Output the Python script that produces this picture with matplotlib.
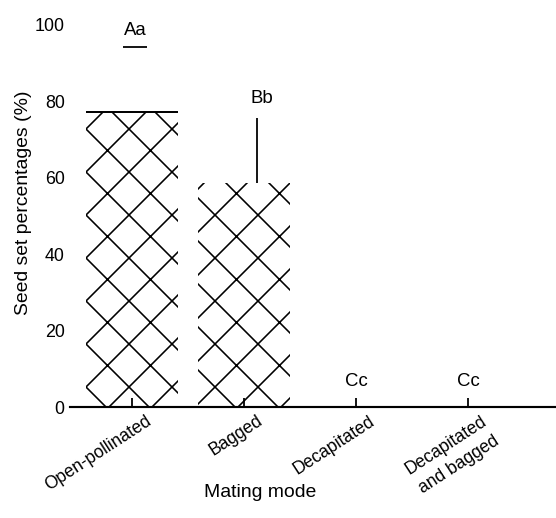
import matplotlib.pyplot as plt
import matplotlib.transforms as mtransforms
import numpy as np

plt.rcParams['font.family'] = ['Liberation Sans', 'DejaVu Sans']
plt.rcParams['hatch.linewidth'] = 0.45

# data
modes = ['Open-pollinated', 'Bagged', 'Decapitated', 'Decapitated\nand bagged']
seed_set = [77.2, 58.6, 0.0, 0.0]
seed_err = [17.0, 17.0, 0.0, 0.0]
letters = ['Aa', 'Bb', 'Cc', 'Cc']

DPI = 258
fig = plt.figure(figsize=(556 / DPI, 518 / DPI), dpi=DPI)
ax = fig.add_axes([0.126, 0.214, 0.874, 0.738])

x = np.arange(len(modes))
width = 0.82
bars = ax.bar(x, seed_set, width=width, color='white', edgecolor='black',
              linewidth=0, hatch='xx')

# top edge of the first bar is the only edge that survived the scan
ax.hlines(seed_set[0], x[0] - width / 2, x[0] + width / 2, color='black', lw=0.55)

# error bars: only the cap of the first and the stem of the second show
ax.hlines(seed_set[0] + seed_err[0], x[0] + 0.03 - 0.107, x[0] + 0.03 + 0.107,
          color='black', lw=0.5)
ax.vlines(x[1] + 0.12, seed_set[1], seed_set[1] + seed_err[1], color='black', lw=0.5)

# significance letters
offsets = [0.03, 0.16, 0.0, 0.0]
for i, (v, e, lab) in enumerate(zip(seed_set, seed_err, letters)):
    if i == 0:
        y = v + e + 2
    elif i == 1:
        y = v + e + 3
    else:
        y = v + 4.5
    ax.text(x[i] + offsets[i], y, lab, ha='center', va='bottom', fontsize=5.2)

ax.set_xlim(-0.554, 3.786)
ax.set_ylim(0, 100)
ax.set_yticks([0, 20, 40, 60, 80, 100])
ax.set_xticks(x)
ax.set_xticklabels(modes, rotation=33, ha='right', rotation_mode='anchor',
                   multialignment='center', linespacing=1.5)

ax.tick_params(axis='x', direction='in', length=2.5, width=0.5, labelsize=4.9, pad=1.5)
ax.tick_params(axis='y', length=0, labelsize=5.0, pad=1.5)

shift = mtransforms.ScaledTranslation(13 / DPI, 0, fig.dpi_scale_trans)
for lab in ax.get_xticklabels():
    lab.set_transform(lab.get_transform() + shift)

for side in ['left', 'top', 'right']:
    ax.spines[side].set_visible(False)
ax.spines['bottom'].set_linewidth(0.6)

ax.set_xlabel('Mating mode', fontsize=5.4)
ax.xaxis.set_label_coords((260 - 70) / 486, -(492 - 407) / 382, transform=ax.transAxes)
ax.xaxis.label.set_va('center')
ax.set_ylabel('Seed set percentages (%)', fontsize=5.4)
ax.yaxis.set_label_coords(-(70 - 23) / 486, (407 - 203) / 382, transform=ax.transAxes)
ax.yaxis.label.set_va('center')

fig.savefig('out.png', dpi=DPI)
